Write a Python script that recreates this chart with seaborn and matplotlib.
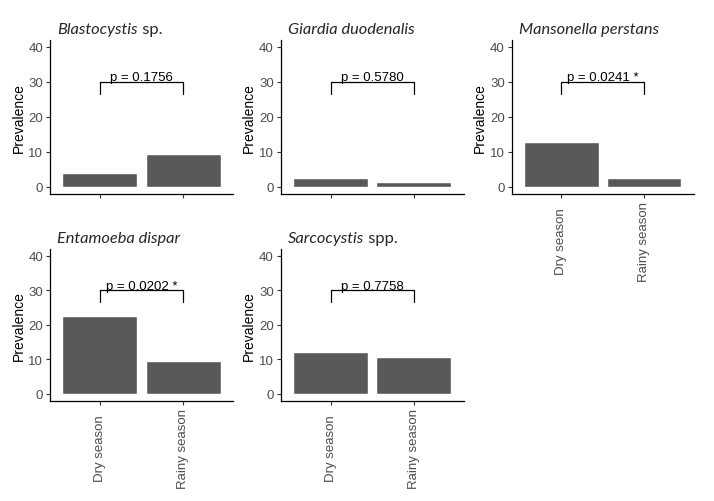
import matplotlib
matplotlib.use("Agg")
import matplotlib.pyplot as plt
import seaborn as sns
import pandas as pd

# data
seasons = ["Dry season", "Rainy season"]
species = ["Blastocystis", "Giardia duodenalis", "Mansonella perstans",
           "Entamoeba dispar", "Sarcocystis"]
species_suffix = [" sp.", "", "", "", " spp."]
dry = [3.8, 2.4, 12.9, 22.6, 12.1]
rainy = [9.3, 1.3, 2.6, 9.4, 10.8]
p_labels = ["p = 0.1756", "p = 0.5780", "p = 0.0241 *", "p = 0.0202 *", "p = 0.7758"]
yticks = [0, 10, 20, 30, 40]
bracket_y = 30
bracket_tip = 26.6

rows = []
for i, sp in enumerate(species):
    rows.append({"species": sp, "season": seasons[0], "prevalence": dry[i]})
    rows.append({"species": sp, "season": seasons[1], "prevalence": rainy[i]})
df = pd.DataFrame(rows)

sns.set_theme(style="ticks")
plt.rcParams['font.family'] = ['Liberation Sans', 'DejaVu Sans']

W, H = 714, 502
fig = plt.figure(figsize=(W / 100, H / 100), dpi=100)

# panel boxes in pixels: (left, top, width, height)
boxes = [(50, 40.7, 183, 154), (280.7, 40.7, 183, 154), (511.7, 40.7, 182, 154),
         (50, 249.8, 183, 152), (280.7, 249.8, 183, 152)]
show_xlabels = [False, False, True, True, True]

for i, sp in enumerate(species):
    l, t, w, h = boxes[i]
    ax = fig.add_axes([l / W, 1 - (t + h) / H, w / W, h / H])
    sub = df[df['species'] == sp]
    sns.barplot(data=sub, x='season', y='prevalence', order=seasons, color='#595959',
                saturation=1, width=0.9, errorbar=None, ax=ax)
    ax.set_xlim(-0.6, 1.6)
    ax.set_ylim(-2, 42)
    ax.set_yticks(yticks)
    sns.despine(ax=ax)
    for s in ['left', 'bottom']:
        ax.spines[s].set_color('black')
        ax.spines[s].set_linewidth(0.9)
    ax.tick_params(length=3, width=0.8, color='#333333', labelsize=9.5,
                   labelcolor='#4D4D4D', pad=2)
    ax.set_xlabel('')
    ax.set_ylabel('Prevalence', fontsize=10, color='black', labelpad=2)
    if show_xlabels[i]:
        ax.tick_params(axis='x', pad=31)
        for lab in ax.get_xticklabels():
            lab.set_rotation(90)
            lab.set_va('center')
            lab.set_ha('center')
    else:
        ax.set_xticklabels(['', ''])

    # significance bracket
    ax.plot([0, 0, 1, 1], [bracket_tip, bracket_y, bracket_y, bracket_tip],
            color='black', lw=0.9, clip_on=False)
    ax.text(0.5, bracket_y + 0.4, p_labels[i], ha='center', va='baseline',
            fontsize=9.5, color='black')

    # title: italic genus/species, roman suffix
    t1 = ax.text(7 / w, 1 + 4 / h, sp, transform=ax.transAxes, ha='left', va='bottom',
                 fontsize=11.8, style='italic', family=['Lato', 'DejaVu Sans'])
    if species_suffix[i]:
        ax.annotate(species_suffix[i], xy=(1, 0), xycoords=t1, ha='left', va='bottom',
                    fontsize=11.8, family=['Lato', 'DejaVu Sans'])

fig.savefig('out.png', dpi=100)
